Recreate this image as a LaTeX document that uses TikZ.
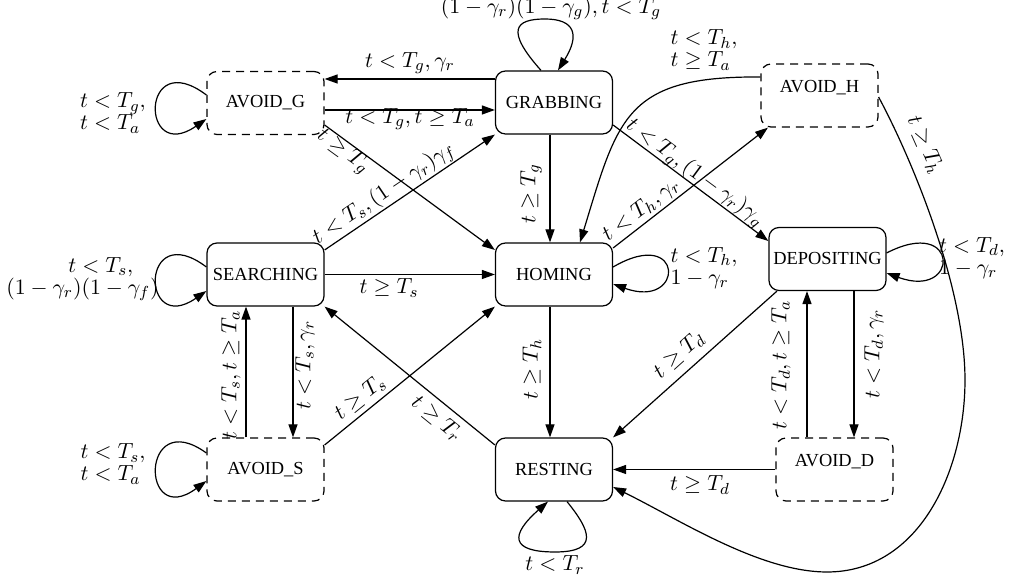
\documentclass[tikz,border=0pt]{standalone}
\usepackage[no-math]{fontspec}
\setmainfont{Liberation Serif}
\usetikzlibrary{arrows.meta,calc}

\tikzset{
  state/.style={draw, line width=0.6pt, rounded corners=5pt,
    minimum width=58.5pt, minimum height=31.5pt, inner sep=0pt,
    font=\fontsize{9.2}{11}\selectfont},
  avoid/.style={state, dash pattern=on 4pt off 3pt},
  edge/.style={-{Triangle[length=6.5pt,width=4.5pt]}, line width=0.6pt},
  lbl/.style={font=\fontsize{10.95}{11}\selectfont, inner sep=0pt},
}

\begin{document}
\begin{tikzpicture}[x=0.5pt, y=-0.5pt]
\useasboundingbox (0,0) rectangle (1009,581);

% states
\node[avoid] (avg)  at (265.5,103)   {AVOID\_G};
\node[state] (grab) at (554,102.5)   {GRABBING};
\node[avoid] (avh)  at (819.5,95.5)  {\raisebox{4pt}[\height][\depth]{AVOID\_H}};
\node[state] (srch) at (265.5,274.5) {SEARCHING};
\node[state] (hom)  at (554,274.5)   {HOMING};
\node[state] (dep)  at (827.5,259)   {DEPOSITING};
\node[avoid] (avs)  at (265.5,469.5) {AVOID\_S};
\node[state] (rest) at (554,469.5)   {RESTING};
\node[avoid] (avd)  at (834.5,469.5) {\raisebox{4pt}[\height][\depth]{AVOID\_D}};

% grabbing area
\draw[edge] (grab.west |- 0,79) -- (avg.east |- 0,79);
\draw[edge] (avg.east |- 0,110) -- (grab.west |- 0,110);
\draw[edge] (avg.east |- 0,125) -- (hom.west |- 0,250);
\draw[edge] (srch.east |- 0,250) -- (grab.south west);
\draw[edge] (srch.east) -- (hom.west);
\draw[edge] (550,0 |- grab.south) -- (550,0 |- hom.north);
\draw[edge] (grab.east |- 0,125) -- (dep.west |- 0,241);
\draw[edge] (541,0 |- grab.north) .. controls (505,30) and (515,19) .. (545,19)
  .. controls (575,19) and (580,35) .. (558,0 |- grab.north);

% homing area
\draw[edge] (hom.east |- 0,248) -- (768,0 |- avh.south);
\draw[edge] (avh.west |- 0,77) .. controls (625,76) and (618,118) .. (580,0 |- hom.north);
\draw[edge] (avh.east |- 0,97) .. controls (915,165) and (965,290) .. (965,380)
  .. controls (965,470) and (920,572) .. (827,572)
  .. controls (760,572) and (680,520) .. (rest.east |- 0,487);
\draw[edge] (hom.east |- 0,267) .. controls (685,225) and (685,310) .. (hom.east |- 0,284);
\draw[edge] (550,0 |- hom.south) -- (550,0 |- rest.north);

% depositing area
\draw[edge] (dep.east |- 0,253) .. controls (960,215) and (960,300) .. (dep.east |- 0,273);
\draw[edge] (777,0 |- dep.south) -- (rest.north east);
\draw[edge] (807,0 |- avd.north) -- (807,0 |- dep.south);
\draw[edge] (854,0 |- dep.south) -- (854,0 |- avd.north);
\draw[edge] (avd.west) -- (rest.east |- avd.west);

% resting and searching area
\draw[edge] (567,0 |- rest.south) .. controls (590,530) and (600,552) .. (555,552)
  .. controls (510,552) and (510,535) .. (548,0 |- rest.south);
\draw[edge] (293,0 |- srch.south) -- (293,0 |- avs.north);
\draw[edge] (246,0 |- avs.north) -- (246,0 |- srch.south);
\draw[edge] (avs.east |- 0,445) -- (hom.south west);
\draw[edge] (rest.west |- 0,445) -- (srch.south east);

% self loops on the left
\draw[edge] (avg.west |- 0,95) .. controls (140,45) and (140,165) .. (avg.west |- 0,119);
\draw[edge] (srch.west |- 0,267) .. controls (140,217) and (140,337) .. (srch.west |- 0,291);
\draw[edge] (avs.west |- 0,453) .. controls (140,405) and (140,530) .. (avs.west |- 0,481);

% transition labels
\node[lbl] (l1)  at (410,63)  {$t<T_g,\gamma_r$};
\node[lbl] (l2)  at (410,119) {$t<T_g,t\geq T_a$};
\node[lbl, rotate=-36] (l3) at (343,152) {$t\geq T_g$};
\node[lbl, rotate=34] (l4) at (384,194) {$t<T_s,(1-\gamma_r)\gamma_f$};
\node[lbl] (l5)  at (389,288) {$t\geq T_s$};
\node[lbl, rotate=90] (l6) at (531,194) {$t\geq T_g$};
\node[lbl, rotate=-36.5] (l7) at (695,173) {$t<T_g,(1-\gamma_r)\gamma_g$};
\node[lbl, rotate=37.6] (l8) at (641,210) {$t<T_h,\gamma_r$};
\node[lbl, align=left] (l9) at (704,50) {$t<T_h,$\\$t\geq T_a$};
\node[lbl, rotate=-66] (l10) at (925,145) {$t\geq T_h$};
\node[lbl, align=left] (l11) at (704,268) {$t<T_h,$\\$1-\gamma_r$};
\node[lbl, align=left] (l12) at (972,258) {$t<T_d,$\\$1-\gamma_r$};
\node[lbl, rotate=41.9] (l13) at (679,355) {$t\geq T_d$};
\node[lbl, rotate=90] (l14) at (781,365) {$t<T_d,t\geq T_a$};
\node[lbl, rotate=90] (l15) at (874,354) {$t<T_d,\gamma_r$};
\node[lbl] (l16) at (700,485) {$t\geq T_d$};
\node[lbl, rotate=90] (l17) at (532,369) {$t\geq T_h$};
\node[lbl] (l18) at (555,565) {$t<T_r$};
\node[lbl, rotate=90] (l19) at (305,365) {$t<T_s,\gamma_r$};
\node[lbl, rotate=90] (l20) at (231,375) {$t<T_s,t\geq T_a$};
\node[lbl, rotate=38.9] (l21) at (360,398) {$t\geq T_s$};
\node[lbl, rotate=-39.1] (l22) at (437,419) {$t\geq T_r$};
\node[lbl, align=left] (l23) at (113,464) {$t<T_s,$\\$t<T_a$};
\node[lbl, align=left] (l24) at (113,113) {$t<T_g,$\\$t<T_a$};
\node[lbl, align=left] (l25) at (82.5,279) {\hspace*{31pt}$t<T_s,$\\$(1-\gamma_r)(1-\gamma_f)$};
\node[lbl] (l26) at (551,8) {$(1-\gamma_r)(1-\gamma_g),t<T_g$};
\end{tikzpicture}
\end{document}
